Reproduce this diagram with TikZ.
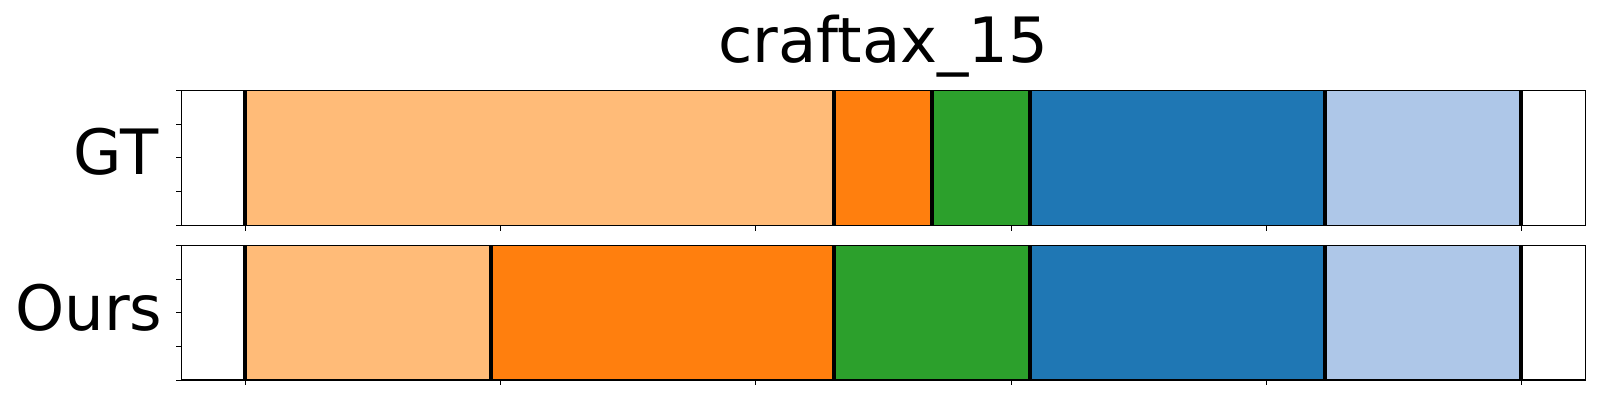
\documentclass[tikz,border=0pt]{standalone}
\usepackage{fontspec}
\setmainfont{DejaVu Sans}
\definecolor{tlorange}{HTML}{FFBB78}
\definecolor{torange}{HTML}{FF7F0E}
\definecolor{tgreen}{HTML}{2CA02C}
\definecolor{tblue}{HTML}{1F77B4}
\definecolor{tlblue}{HTML}{AEC7E8}
\begin{document}
\begin{tikzpicture}[x=1pt,y=-1pt,
  frame/.style={draw=black,line width=1.3pt},
  sepline/.style={draw=black,line width=4pt},
  tickmark/.style={draw=black,line width=1pt},
  lbl/.style={inner sep=0pt,font=\fontsize{62.5}{70}\selectfont}]
\useasboundingbox (0,0) rectangle (1600,400);
\fill[white] (0,0) rectangle (1600,400);
% title
\node[lbl,anchor=base] (title) at (883.5,62.3) {craftax\_15};
% row labels
\node[lbl,anchor=base east] (gt) at (158.5,174.7) {GT};
\node[lbl,anchor=base east] (ours) at (162.5,330.7) {Ours};
% GT segments
\foreach \a/\b/\c in {245/834/tlorange,834/932/torange,932/1030/tgreen,1030/1325/tblue,1325/1521/tlblue}
  \fill[\c] (\a,90.3) rectangle (\b,225.3);
% Ours segments
\foreach \a/\b/\c in {245/491/tlorange,491/834/torange,834/1030/tgreen,1030/1325/tblue,1325/1521/tlblue}
  \fill[\c] (\a,245.3) rectangle (\b,380);
% separators
\foreach \x in {245,834,932,1030,1325,1521}
  \draw[sepline] (\x,90.3) -- (\x,225.3);
\foreach \x in {245,491,834,1030,1325,1521}
  \draw[sepline] (\x,245.3) -- (\x,380);
% frames
\draw[frame] (181.3,90.3) rectangle (1585.7,225.3);
\draw[frame] (181.3,245.3) rectangle (1585.7,380);
% y ticks
\foreach \y in {90.3,124.1,157.8,191.6,225.3}
  \draw[tickmark] (181.3,\y) -- (176,\y);
\foreach \y in {245.3,279,312.7,346.3,380}
  \draw[tickmark] (181.3,\y) -- (176,\y);
% x ticks
\foreach \x in {245.3,500.6,755.9,1011.2,1266.5,1521.8}{
  \draw[tickmark] (\x,225.3) -- (\x,230.5);
  \draw[tickmark] (\x,380) -- (\x,385.2);
}
\end{tikzpicture}
\end{document}
